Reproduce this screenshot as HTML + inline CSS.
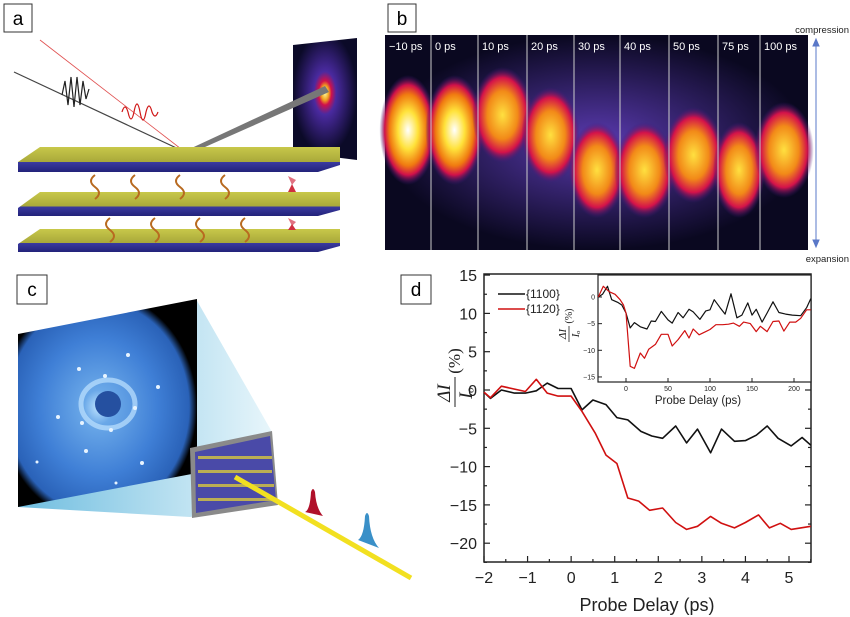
<!DOCTYPE html>
<html><head><meta charset="utf-8"><style>
html,body{margin:0;padding:0;background:#fff;width:850px;height:617px;overflow:hidden}
svg{display:block;font-family:"Liberation Sans",sans-serif}
</style></head><body>
<svg id="fig" width="850" height="617" viewBox="0 0 850 617">
<defs>
<radialGradient id="blob" cx="50%" cy="50%" r="50%"><stop offset="0" stop-color="#fff"/><stop offset="0.35" stop-color="#ffe23a"/><stop offset="0.65" stop-color="#f07a10"/><stop offset="0.82" stop-color="#d0104a"/><stop offset="1" stop-color="#3a1a80" stop-opacity="0"/></radialGradient>
<radialGradient id="blob2" cx="50%" cy="50%" r="50%"><stop offset="0" stop-color="#ffe040"/><stop offset="0.5" stop-color="#f28a18"/><stop offset="0.78" stop-color="#d4124a"/><stop offset="1" stop-color="#3a1a80" stop-opacity="0"/></radialGradient>
<radialGradient id="haze" cx="50%" cy="50%" r="50%"><stop offset="0" stop-color="#5a3ab0"/><stop offset="1" stop-color="#0a0820"/></radialGradient>
<radialGradient id="diff" cx="45%" cy="52%" r="55%"><stop offset="0" stop-color="#bfe4ff"/><stop offset="0.15" stop-color="#6aa8e8"/><stop offset="0.6" stop-color="#3f7fd6"/><stop offset="0.92" stop-color="#2a62b8"/><stop offset="1" stop-color="#000"/></radialGradient>
<linearGradient id="cone" x1="0" y1="0" x2="1" y2="0"><stop offset="0" stop-color="#5fb6dc"/><stop offset="1" stop-color="#e8f6fb"/></linearGradient>
<linearGradient id="slab" x1="0" y1="0" x2="0" y2="1"><stop offset="0" stop-color="#c8c84a"/><stop offset="0.6" stop-color="#a8a83a"/><stop offset="0.61" stop-color="#3a3aa0"/><stop offset="1" stop-color="#22227a"/></linearGradient>
<radialGradient id="scr" cx="50%" cy="45%" r="50%"><stop offset="0" stop-color="#ffffa0"/><stop offset="0.12" stop-color="#f0a020"/><stop offset="0.2" stop-color="#d0104a"/><stop offset="0.35" stop-color="#4a2aa0"/><stop offset="1" stop-color="#0b0a28"/></radialGradient>
</defs>

<!-- Panel labels -->
<g><rect x="4" y="4" width="28" height="28" fill="#fff" stroke="#333"/><text x="18" y="25" font-size="19" text-anchor="middle">a</text></g>
<g><rect x="388" y="4" width="28" height="28" fill="#fff" stroke="#333"/><text x="402" y="25" font-size="19" text-anchor="middle">b</text></g>
<g><rect x="17" y="275" width="30" height="29" fill="#fff" stroke="#333"/><text x="32" y="296" font-size="19" text-anchor="middle">c</text></g>
<g><rect x="401" y="275" width="30" height="29" fill="#fff" stroke="#333"/><text x="416" y="296" font-size="19" text-anchor="middle">d</text></g>

<!-- Panel a -->
<g>
<polygon points="293,45 357,38 357,160 293,152" fill="url(#scr)"/>
<line x1="40" y1="40" x2="185" y2="152" stroke="#e05050" stroke-width="0.8"/>
<line x1="14" y1="72" x2="185" y2="152" stroke="#444" stroke-width="1.2"/>
<polygon points="183,152 325,86 329,92 187,155" fill="#777"/>
<g stroke="#222" stroke-width="1.2" fill="none"><path d="M62,95 l3,-14 l3,24 l3,-28 l3,30 l3,-30 l3,28 l3,-24 l3,18 l3,-10"/></g>
<g stroke="#d01818" stroke-width="1.2" fill="none"><path d="M122,112 q3,-10 6,0 q3,14 6,0 q3,-16 6,0 q3,16 6,0 q3,-12 6,0 q3,8 6,0"/></g>
<g>
<polygon points="18,162 40,147 340,147 340,165 318,172 18,172" fill="url(#slab)"/>
<polygon points="18,208 40,192 340,192 340,210 318,216 18,216" fill="url(#slab)"/>
<polygon points="18,244 40,229 340,229 340,246 318,252 18,252" fill="url(#slab)"/>
<g stroke="#b86a20" stroke-width="2" fill="none">
<path d="M95,175 q-8,6 0,12 q8,6 0,12"/><path d="M135,175 q-8,6 0,12 q8,6 0,12"/><path d="M180,175 q-8,6 0,12 q8,6 0,12"/><path d="M225,175 q-8,6 0,12 q8,6 0,12"/>
<path d="M110,218 q-8,6 0,12 q8,6 0,12"/><path d="M155,218 q-8,6 0,12 q8,6 0,12"/><path d="M200,218 q-8,6 0,12 q8,6 0,12"/><path d="M245,218 q-8,6 0,12 q8,6 0,12"/>
</g>
<polygon points="288,176 296,180 292,185" fill="#e07080"/><polygon points="288,192 296,192 292,184" fill="#d03040"/>
<polygon points="288,218 296,222 292,226" fill="#e07080"/><polygon points="288,230 296,230 292,224" fill="#d03040"/>
</g>
</g>

<!-- Panel b -->
<g>
<rect x="385" y="35" width="423" height="215" fill="url(#haze)"/>
<g id="bstrips"></g>
<text x="849" y="33" font-size="9.5" fill="#222" text-anchor="end">compression</text>
<text x="849" y="262" font-size="9.5" fill="#222" text-anchor="end">expansion</text>
<g stroke="#5a78c8" stroke-width="1" fill="#5a78c8"><line x1="816" y1="42" x2="816" y2="244"/><polygon points="813,46 819,46 816,39"/><polygon points="813,240 819,240 816,247"/></g>
</g>

<!-- Panel c -->
<g>
<polygon points="196,299 272,432 278,505 190,517 18,507" fill="url(#cone)" opacity="0.9"/>
<polygon points="18,334 197,299 197,473 18,507" fill="url(#diff)"/>
<ellipse cx="108" cy="404" rx="13" ry="13" fill="#2550a0"/>
<ellipse cx="108" cy="404" rx="27" ry="24" fill="none" stroke="#bfe2ff" stroke-width="5" opacity="0.7"/>
<g fill="#e8f4ff"><circle cx="128" cy="355" r="2"/><circle cx="79" cy="369" r="2"/><circle cx="158" cy="387" r="2"/><circle cx="135" cy="408" r="2"/><circle cx="82" cy="423" r="2"/><circle cx="58" cy="417" r="2"/><circle cx="111" cy="430" r="2"/><circle cx="86" cy="451" r="2"/><circle cx="105" cy="376" r="2"/><circle cx="142" cy="463" r="2"/><circle cx="116" cy="483" r="1.5"/><circle cx="37" cy="462" r="1.5"/></g>
<polygon points="190,448 272,431 278,505 192,518" fill="#8a8a8a"/>
<polygon points="195,452 270,436 276,500 196,513" fill="#4a4aa8"/>
<g fill="#d8c840" opacity="0.8"><rect x="198" y="456" width="74" height="3"/><rect x="198" y="470" width="74" height="3"/><rect x="198" y="484" width="76" height="3"/><rect x="198" y="498" width="76" height="3"/></g>
<line x1="235" y1="477" x2="411" y2="578" stroke="#f2e020" stroke-width="5"/>
<path d="M305,512 q5,-2 6,-20 q2,-6 4,0 q1,16 8,24 z" fill="#b0102a"/>
<path d="M358,540 q6,-4 7,-24 q2,-6 4,0 q1,22 10,32 z" fill="#3a90c8"/>
</g>

<!-- Panel d chart -->
<g id="chart"></g>
</svg>
<script>
// main chart data
const xMain1100 = [-2,-1.85,-1.6,-1.3,-1.05,-0.8,-0.55,-0.3,0,0.25,0.5,0.8,1.05,1.3,1.6,1.85,2.1,2.4,2.65,2.9,3.2,3.45,3.75,4,4.25,4.5,4.75,5.05,5.3,5.5];
const yMain1100 = [-0.3,-1.1,0,-0.4,-0.4,-0.1,0.9,0.2,0.2,-2.6,-1.3,-1.9,-3.6,-3.9,-5.4,-6,-6.3,-4.7,-6.9,-5.1,-8.2,-5.1,-6.7,-6.6,-5.9,-4.7,-6.3,-7.3,-6.2,-7.2];
const xMain1120 = [-2,-1.85,-1.6,-1.05,-0.8,-0.55,-0.3,0,0.25,0.55,0.8,1.05,1.3,1.55,1.8,2.1,2.4,2.65,2.9,3.2,3.45,3.75,4,4.3,4.55,4.8,5.05,5.5];
const yMain1120 = [-0.3,-1,0.5,-0.2,1.4,-0.4,-0.8,-0.8,-2.8,-5.6,-8.5,-9.6,-14.1,-14.5,-15.7,-15.4,-17.3,-18.2,-17.8,-16.5,-17.4,-18,-17.3,-16.3,-18,-17.4,-18.2,-17.8];
const xTicksMain = [-2,-1,0,1,2,3,4,5];
const yTicksMain = [15,10,5,0,-5,-10,-15,-20];
// inset data
const xIn1100 = [-33,-28,-22,-17,-10,-5,0,5,10,17,25,30,35,42,50,55,62,68,75,80,88,95,100,105,112,118,125,132,138,145,150,155,162,168,175,182,190,198,208,215,220];
const yIn1100 = [0,0.5,2,-0.5,-1,-1.5,-3,-5.8,-4.8,-5.6,-6,-4.5,-4.6,-2.7,-4.3,-4.9,-2.9,-3.9,-2.3,-2.8,-4.2,-2.6,-2.4,-0.5,-2,-3.2,0.6,-3.9,-3.4,-1.1,-3.4,-2.3,-4.7,-3,-0.9,-2.9,-3.2,-3.4,-3.5,-2,-0.3];
const xIn1120 = [-33,-27,-20,-13,-7,-3,0,5,10,17,22,27,35,42,50,55,62,70,75,80,87,95,100,107,115,122,128,135,140,148,155,160,168,175,182,188,195,202,208,215,220];
const yIn1120 = [0,2,1,0.5,-0.5,-1.5,-3,-13,-13.4,-10.5,-11.5,-9.8,-8.9,-7,-7,-9.2,-8,-6.3,-7.7,-6,-7.1,-6.5,-6.1,-5.2,-5.2,-5.1,-4.9,-5.5,-4.7,-5,-6.5,-5.5,-6.5,-4.6,-4.5,-6.4,-4.7,-4.7,-4,-2.4,-2.4];
const xTicksIn = [0,50,100,150,200];
const yTicksIn = [0,-5,-10,-15];

const NS='http://www.w3.org/2000/svg';
const chart=document.getElementById('chart');
function mk(tag,attrs,parent){const e=document.createElementNS(NS,tag);for(const k in attrs)e.setAttribute(k,attrs[k]);(parent||chart).appendChild(e);return e;}
const L=484,R=811,T=274,B=562;
const xs=v=>L+(v+2)*(305/7);
const ys=v=>390-v*7.66;
let e;
e=mk('rect',{x:L,y:T,width:R-L,height:B-T,fill:'none',stroke:'#222','stroke-width':1.5});


for(let v=-2;v<=5.5;v+=0.5){const x=xs(v);const len=(Math.abs(v%1)<1e-9)?6:3;
mk('line',{x1:x,y1:B,x2:x,y2:B-len,stroke:'#222','stroke-width':1.2});}
xTicksMain.forEach(v=>{e=mk('text',{x:xs(v),y:B+21,'font-size':16,'text-anchor':'middle',fill:'#222'});e.textContent=v<0?'\u2212'+(-v):v;

});
for(let v=15;v>=-22.5;v-=2.5){const y=ys(v);const len=(Math.abs(v%5)<1e-9)?6:3;
mk('line',{x1:L,y1:y,x2:L+len,y2:y,stroke:'#222','stroke-width':1.2});mk('line',{x1:R,y1:y,x2:R-len,y2:y,stroke:'#222','stroke-width':1.2});}
yTicksMain.forEach(v=>{e=mk('text',{x:L-7,y:ys(v)+6,'font-size':16,'text-anchor':'end',fill:'#222'});e.textContent=v<0?'\u2212'+(-v):v;

});
e=mk('text',{x:647,y:611,'font-size':18,'text-anchor':'middle',fill:'#222'});e.textContent='Probe Delay (ps)';


e=mk('g',{transform:'translate(452,385) rotate(-90)'});


mk('text',{x:-8,y:-2,'font-size':19,'font-family':'Liberation Serif','font-style':'italic','text-anchor':'middle',fill:'#222'},e).textContent='\u0394I';
mk('line',{x1:-22,y1:3,x2:8,y2:3,stroke:'#222','stroke-width':1},e);
mk('text',{x:-8,y:20,'font-size':19,'font-family':'Liberation Serif','font-style':'italic','text-anchor':'middle',fill:'#222'},e).textContent='I\u2092';
mk('text',{x:24,y:8,'font-size':17,'font-family':'Liberation Serif','text-anchor':'middle',fill:'#222'},e).textContent='(%)';
function series(xa,ya,fx,fy,col,w,name){const p=xa.map((x,i)=>fx(x).toFixed(1)+','+fy(ya[i]).toFixed(1)).join(' ');
const el=mk('polyline',{points:p,fill:'none',stroke:col,'stroke-width':w,'stroke-linejoin':'round'});

}
series(xMain1100,yMain1100,xs,ys,'#111',1.6,'series-1100');
series(xMain1120,yMain1120,xs,ys,'#d01010',1.6,'series-1120');
// legend
mk('line',{x1:498,y1:294,x2:525,y2:294,stroke:'#111','stroke-width':1.5});
e=mk('text',{x:526,y:298,'font-size':12,fill:'#222'});e.textContent='{1100}';


mk('line',{x1:498,y1:309,x2:525,y2:309,stroke:'#d01010','stroke-width':1.5});
e=mk('text',{x:526,y:313,'font-size':12,fill:'#222'});e.textContent='{1120}';


// inset
const iL=598,iR=811,iT=275,iB=382;
const ixs=v=>626+v*0.84;
const iys=v=>297-v*5.33;
e=mk('rect',{x:iL,y:iT,width:iR-iL,height:iB-iT,fill:'#fff',stroke:'#222','stroke-width':1.2});


xTicksIn.forEach(v=>{mk('line',{x1:ixs(v),y1:iB,x2:ixs(v),y2:iB-4,stroke:'#222'});
e=mk('text',{x:ixs(v),y:iB+9,'font-size':7,'text-anchor':'middle',fill:'#222'});e.textContent=v;

});
yTicksIn.forEach(v=>{mk('line',{x1:iL,y1:iys(v),x2:iL+4,y2:iys(v),stroke:'#222'});
e=mk('text',{x:iL-3,y:iys(v)+2.5,'font-size':7,'text-anchor':'end',fill:'#222'});e.textContent=v<0?'\u2212'+(-v):v;

});
e=mk('text',{x:698,y:404,'font-size':11.5,'text-anchor':'middle',fill:'#222'});e.textContent='Probe Delay (ps)';


e=mk('g',{transform:'translate(567,330) rotate(-90)'});


mk('text',{x:-4,y:-1,'font-size':11,'font-family':'Liberation Serif','font-style':'italic','text-anchor':'middle',fill:'#222'},e).textContent='\u0394I';
mk('line',{x1:-12,y1:2,x2:4,y2:2,stroke:'#222','stroke-width':0.8},e);
mk('text',{x:-4,y:12,'font-size':11,'font-family':'Liberation Serif','font-style':'italic','text-anchor':'middle',fill:'#222'},e).textContent='I\u2092';
mk('text',{x:14,y:5,'font-size':10,'font-family':'Liberation Serif','text-anchor':'middle',fill:'#222'},e).textContent='(%)';
series(xIn1100,yIn1100,ixs,iys,'#111',1.2,'inset-series-1100');
series(xIn1120,yIn1120,ixs,iys,'#d01010',1.2,'inset-series-1120');

// panel b strips
const delays=['\u221210 ps','0 ps','10 ps','20 ps','30 ps','40 ps','50 ps','75 ps','100 ps'];
const g=document.getElementById('bstrips');
const edges=[385,431,478,527,574,620,669,718,760,808];
const cy=[130,130,115,135,170,170,155,170,150];
const big=[1,1,0,0,0,0,0,0,0];
delays.forEach((d,i)=>{const x0=edges[i],x1=edges[i+1],cx=(x0+x1)/2;
const el=document.createElementNS(NS,'ellipse');
el.setAttribute('cx',cx);el.setAttribute('cy',cy[i]);el.setAttribute('rx',(x1-x0)*0.62);el.setAttribute('ry',big[i]?55:48);
el.setAttribute('fill',big[i]?'url(#blob)':'url(#blob2)');


g.appendChild(el);
if(i>0){const ln=document.createElementNS(NS,'line');ln.setAttribute('x1',x0);ln.setAttribute('x2',x0);ln.setAttribute('y1',35);ln.setAttribute('y2',250);ln.setAttribute('stroke','#ccc');ln.setAttribute('stroke-width','1');g.appendChild(ln);}
const t=document.createElementNS(NS,'text');t.setAttribute('x',x0+4);t.setAttribute('y',50);t.setAttribute('font-size','11');t.setAttribute('fill','#fff');t.textContent=d;


g.appendChild(t);});
</script>
</body></html>
